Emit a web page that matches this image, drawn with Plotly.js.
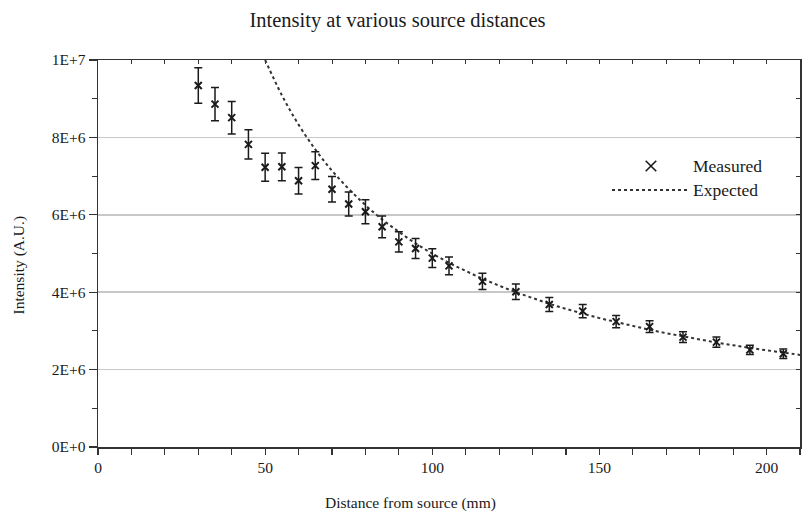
<!DOCTYPE html>
<html>
<head>
<meta charset="utf-8">
<script src="https://cdn.plot.ly/plotly-3.0.1.min.js"></script>
<style>
  html, body { margin: 0; padding: 0; background: #ffffff; }
  #chart { width: 803px; height: 512px; }
</style>
</head>
<body>
<div id="chart"></div>
<script>
// Measured intensity at each source distance (mm), with its uncertainty
const distance = [30, 35, 40, 45, 50, 55, 60, 65, 70, 75, 80, 85, 90, 95, 100, 105,
                  115, 125, 135, 145, 155, 165, 175, 185, 195, 205];
const intensity = [9.34e6, 8.86e6, 8.51e6, 7.82e6, 7.23e6, 7.24e6, 6.88e6, 7.27e6, 6.66e6, 6.28e6,
                   6.08e6, 5.69e6, 5.30e6, 5.13e6, 4.88e6, 4.68e6, 4.28e6, 4.01e6, 3.68e6, 3.51e6,
                   3.24e6, 3.11e6, 2.84e6, 2.71e6, 2.51e6, 2.41e6];
const intensityErr = [0.46e6, 0.43e6, 0.42e6, 0.38e6, 0.36e6, 0.36e6, 0.34e6, 0.36e6, 0.33e6, 0.31e6,
                      0.31e6, 0.28e6, 0.26e6, 0.26e6, 0.24e6, 0.23e6, 0.21e6, 0.20e6, 0.18e6, 0.17e6,
                      0.16e6, 0.15e6, 0.14e6, 0.13e6, 0.12e6, 0.12e6];

// Expected intensity curve
const expectedDistance = [50, 55, 60, 65, 70, 75, 80, 85, 90, 95, 100, 105, 110, 115, 120, 125,
                          130, 135, 140, 145, 150, 155, 160, 165, 170, 175, 180, 185, 190, 195,
                          200, 205, 210];
const expectedIntensity = [1.0e7, 9.09e6, 8.33e6, 7.69e6, 7.14e6, 6.67e6, 6.25e6, 5.88e6, 5.56e6,
                           5.26e6, 5.0e6, 4.76e6, 4.55e6, 4.35e6, 4.17e6, 4.0e6, 3.85e6, 3.70e6,
                           3.57e6, 3.45e6, 3.33e6, 3.23e6, 3.13e6, 3.03e6, 2.94e6, 2.86e6, 2.78e6,
                           2.70e6, 2.63e6, 2.56e6, 2.50e6, 2.44e6, 2.38e6];

// Axis ticks
const xTickVals = [0, 50, 100, 150, 200];
const yTickVals = [0, 2e6, 4e6, 6e6, 8e6, 1e7];
const yTickText = ['0E+0', '2E+6', '4E+6', '6E+6', '8E+6', '1E+7'];

// Legend entries
const legendLabels = ['Measured', 'Expected'];

const FONT = 'Liberation Serif, Times New Roman, serif';
const INK = '#1a1a1a';

const measured = {
  x: distance,
  y: intensity,
  name: legendLabels[0],
  type: 'scatter',
  mode: 'markers',
  marker: { symbol: 'x-thin', size: 7, color: INK, line: { color: INK, width: 2 } },
  error_y: { type: 'data', array: intensityErr, visible: true, color: INK, thickness: 1.5, width: 4 },
  cliponaxis: false,
  showlegend: false
};

const expected = {
  x: expectedDistance,
  y: expectedIntensity,
  name: legendLabels[1],
  type: 'scatter',
  mode: 'lines',
  line: { color: '#333333', width: 2, dash: 'dot', shape: 'spline' },
  showlegend: false
};

// Empty trace so the mirrored top/right tick axes get drawn
const frameAxes = {
  x: [], y: [], xaxis: 'x2', yaxis: 'y2', type: 'scatter', mode: 'markers',
  showlegend: false, hoverinfo: 'skip'
};

// Hand-built legend placed inside the plot frame (paper coordinates)
const legX = 0.7877, legYMeasured = 0.7261, legYExpected = 0.6641;
const crossDx = 0.0075, crossDy = 0.0135;
const legendShapes = [
  { type: 'line', xref: 'paper', yref: 'paper',
    x0: legX - crossDx, x1: legX + crossDx, y0: legYMeasured - crossDy, y1: legYMeasured + crossDy,
    line: { color: INK, width: 1.6 } },
  { type: 'line', xref: 'paper', yref: 'paper',
    x0: legX - crossDx, x1: legX + crossDx, y0: legYMeasured + crossDy, y1: legYMeasured - crossDy,
    line: { color: INK, width: 1.6 } },
  { type: 'line', xref: 'paper', yref: 'paper',
    x0: 0.7322, x1: 0.8433, y0: legYExpected, y1: legYExpected,
    line: { color: '#333333', width: 2, dash: 'dot' } }
];

const layout = {
  width: 803,
  height: 512,
  margin: { l: 98, r: 3, t: 60, b: 65 },
  paper_bgcolor: '#ffffff',
  plot_bgcolor: '#ffffff',
  font: { family: FONT, size: 15, color: INK },
  title: {
    text: 'Intensity at various source distances',
    font: { family: FONT, size: 20.5, color: INK },
    x: 0.495, xref: 'container', xanchor: 'center',
    y: 0.962, yref: 'container', yanchor: 'middle'
  },
  showlegend: false,
  xaxis: {
    range: [0, 210],
    tickvals: xTickVals,
    ticks: 'outside', ticklen: 6, tickwidth: 1.2, tickcolor: '#333',
    minor: { dtick: 10, tick0: 0, ticks: 'outside', ticklen: 6, tickwidth: 1.2, tickcolor: '#333', showgrid: false },
    showline: true, linecolor: '#333', linewidth: 1.5, mirror: true,
    showgrid: false, zeroline: false,
    tickfont: { family: FONT, size: 15.5, color: INK }
  },
  yaxis: {
    range: [0, 1e7],
    tickvals: yTickVals, ticktext: yTickText,
    ticks: 'outside', ticklen: 8, tickwidth: 1.2, tickcolor: '#333',
    minor: { dtick: 1e6, tick0: 0, ticks: 'outside', ticklen: 5, tickwidth: 1.2, tickcolor: '#333', showgrid: false },
    showline: true, linecolor: '#333', linewidth: 1.5, mirror: true,
    showgrid: true, gridcolor: '#c8c8c8', gridwidth: 1.5,
    zeroline: false,
    tickfont: { family: FONT, size: 15.5, color: INK }
  },
  xaxis2: {
    overlaying: 'x', side: 'top', anchor: 'y', range: [0, 210],
    dtick: 10, tick0: 0, ticks: 'inside', ticklen: 4, tickcolor: '#333',
    showticklabels: false, showgrid: false, zeroline: false, showline: false
  },
  yaxis2: {
    overlaying: 'y', side: 'right', anchor: 'x', range: [0, 1e7],
    dtick: 1e6, tick0: 0, ticks: 'inside', ticklen: 4, tickcolor: '#333',
    showticklabels: false, showgrid: false, zeroline: false, showline: false
  },
  shapes: legendShapes,
  annotations: [
    {
      text: 'Distance from source (mm)',
      xref: 'paper', yref: 'paper', x: 0.445, y: -0.145,
      xanchor: 'center', yanchor: 'middle', showarrow: false,
      font: { family: FONT, size: 15.5, color: INK }
    },
    {
      text: 'Intensity (A.U.)',
      xref: 'paper', yref: 'paper', x: -0.112, y: 0.47,
      xanchor: 'center', yanchor: 'middle', textangle: -90, showarrow: false,
      font: { family: FONT, size: 15.5, color: INK }
    },
    {
      text: legendLabels[0],
      xref: 'paper', yref: 'paper', x: 0.8447, y: legYMeasured,
      xanchor: 'left', yanchor: 'middle', showarrow: false,
      font: { family: FONT, size: 17.5, color: INK }
    },
    {
      text: legendLabels[1],
      xref: 'paper', yref: 'paper', x: 0.8447, y: legYExpected,
      xanchor: 'left', yanchor: 'middle', showarrow: false,
      font: { family: FONT, size: 17.5, color: INK }
    }
  ]
};

Plotly.newPlot('chart', [expected, measured, frameAxes], layout, { displayModeBar: false, staticPlot: true });
</script>
</body>
</html>
